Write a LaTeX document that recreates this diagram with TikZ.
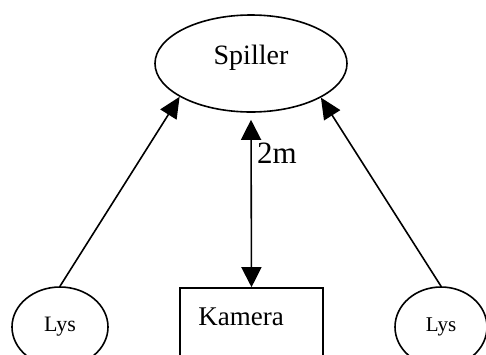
\documentclass[tikz,border=0pt]{standalone}
\usepackage{fontspec}
\setmainfont{Liberation Serif}
\usetikzlibrary{shapes.geometric,arrows.meta}
\tikzset{
  oval/.style={ellipse, draw, line width=1.6pt, inner sep=0pt},
  boxshape/.style={rectangle, draw, line width=1.6pt, inner sep=0pt},
  conn/.style={line width=1.6pt, -{Triangle[length=21pt,width=19pt]}},
  bothconn/.style={line width=1.6pt, {Triangle[length=20pt,width=20pt]}-{Triangle[length=20pt,width=20pt]}}
}
\begin{document}
\begin{tikzpicture}[x=1pt,y=-1pt]
\useasboundingbox (0,0) rectangle (486,354);
\clip (0,0) rectangle (486,354);
\node[oval, minimum width=192pt, minimum height=97pt, text depth=18pt, font=\fontsize{28}{30}\selectfont] (spiller) at (251,63.5) {Spiller};
\node[boxshape, minimum width=143pt, minimum height=112pt] (kamera) at (251.5,344) {};
\node[font=\fontsize{27}{30}\selectfont] (kameratext) at (241,317) {Kamera};
\node[oval, minimum width=96pt, minimum height=80pt, font=\fontsize{22}{24}\selectfont] (lysL) at (60,327) {Lys};
\node[oval, minimum width=92pt, minimum height=80pt, font=\fontsize{21}{24}\selectfont] (lysR) at (441,327) {Lys};
\coordinate (topend) at ([yshift=-7pt]spiller.south);
\draw[bothconn] (topend) -- (kamera.north);
\node[anchor=west, inner sep=0pt, font=\fontsize{31}{34}\selectfont] (dist) at (257,153) {2m};
\draw[conn] (lysL.north) -- (spiller.205.6);
\draw[conn] (lysR.north) -- (spiller.334.4);
\end{tikzpicture}
\end{document}
